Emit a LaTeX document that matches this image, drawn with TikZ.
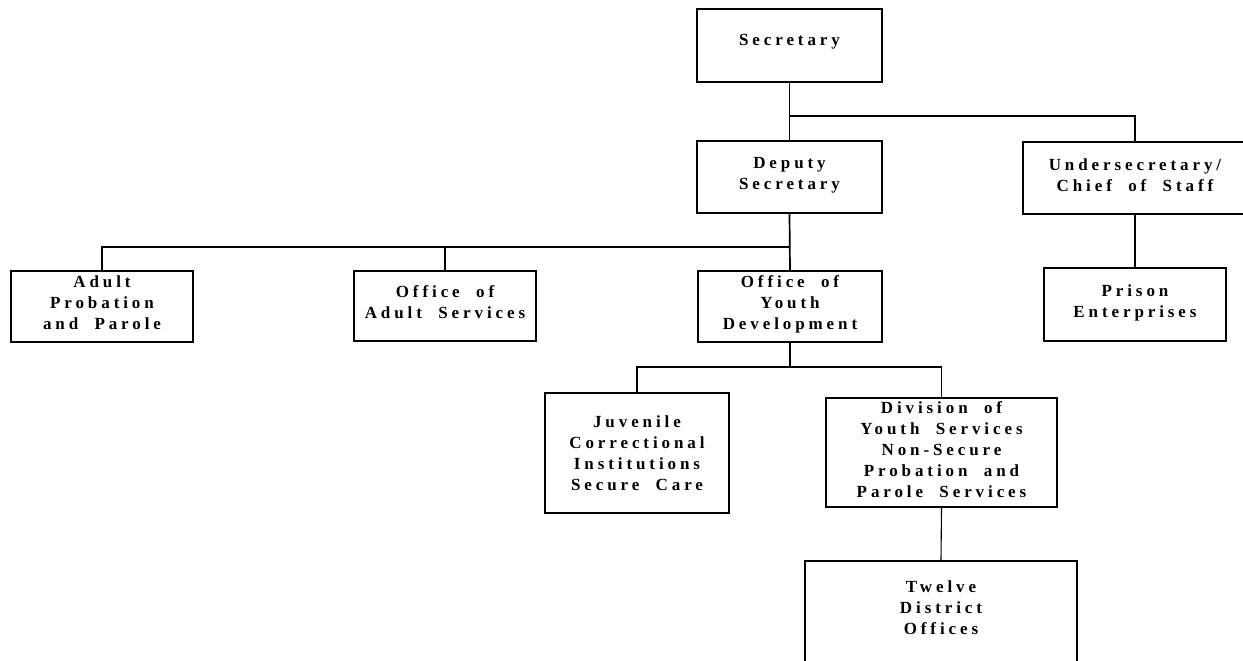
\documentclass[tikz,border=0pt]{standalone}
\usepackage{fontspec}
\newfontfamily\orgfont{Liberation Serif}[LetterSpace=23,WordSpace=2]

\tikzset{
  unitbox/.style={draw=black, line width=1.5pt, fill=none, inner sep=0pt},
  unitlabel/.style={align=center, inner sep=0pt,
    font=\orgfont\bfseries\fontsize{17}{21}\selectfont},
  mainline/.style={line width=1.7pt},
  subline/.style={line width=1.1pt}
}

% \orgunit{name}{x1}{y1}{x2}{y2}{label centre y}{label}
\newcommand\orgunit[7]{%
  \node[unitbox, minimum width={(#4-#2)*1pt}, minimum height={(#5-#3)*1pt}]
    (#1) at ({(#2+#4)/2},{(#3+#5)/2}) {};
  \node[unitlabel] (#1-label) at ({(#2+#4)/2},#6) {#7};
}

\begin{document}
\begin{tikzpicture}[x=1pt,y=-1pt]
\useasboundingbox (0,0) rectangle (1243,661);

\orgunit{sec}{697}{9}{882}{82}{42}{Secretary}
\orgunit{dep}{697}{141}{882}{213}{175}{Deputy\\Secretary}
\orgunit{und}{1023}{142}{1247}{214}{175}{Undersecretary/\\Chief of Staff}
\orgunit{prs}{1044}{268}{1226}{341}{303}{Prison\\Enterprises}
\orgunit{app}{11}{271}{193}{342}{303}{Adult\\Probation\\and Parole}
\orgunit{oas}{354}{271}{536}{341}{302}{Office of\\Adult Services}
\orgunit{oyd}{698}{271}{882}{342}{304}{Office of\\Youth\\Development}
\orgunit{juv}{545}{393}{729}{513}{453}{Juvenile\\Correctional\\Institutions\\Secure Care}
\orgunit{dys}{826}{398}{1057}{507}{450}{Division of\\Youth Services\\Non-Secure\\Probation and\\Parole Services}
\orgunit{twl}{805}{561}{1077}{700}{608}{Twelve\\District\\Offices}

% junction points of the branch lines
\coordinate (jtop) at (790,116);
\coordinate (jmid) at (790,247);
\coordinate (jlow) at (790,367);

% Secretary to Deputy and Undersecretary
\draw[mainline] (sec.south) -- (dep.north);
\draw[mainline] (jtop) -| (und.north);
\draw[mainline] (und.south) -- (prs.north);

% Deputy Secretary to the offices
\draw[mainline] (dep.south) -- (oyd.north);
\draw[subline] (jmid) -| (oas.north);
\draw[subline] (oas.north |- jmid) -| (app.north);

% Office of Youth Development to its divisions
\draw[mainline] (oyd.south) -- (jlow);
\draw[subline] (jlow) -| (juv.north);
\draw[subline] (jlow) -| (dys.north);
\draw[subline] (dys.south) -- (twl.north);
\end{tikzpicture}
\end{document}
